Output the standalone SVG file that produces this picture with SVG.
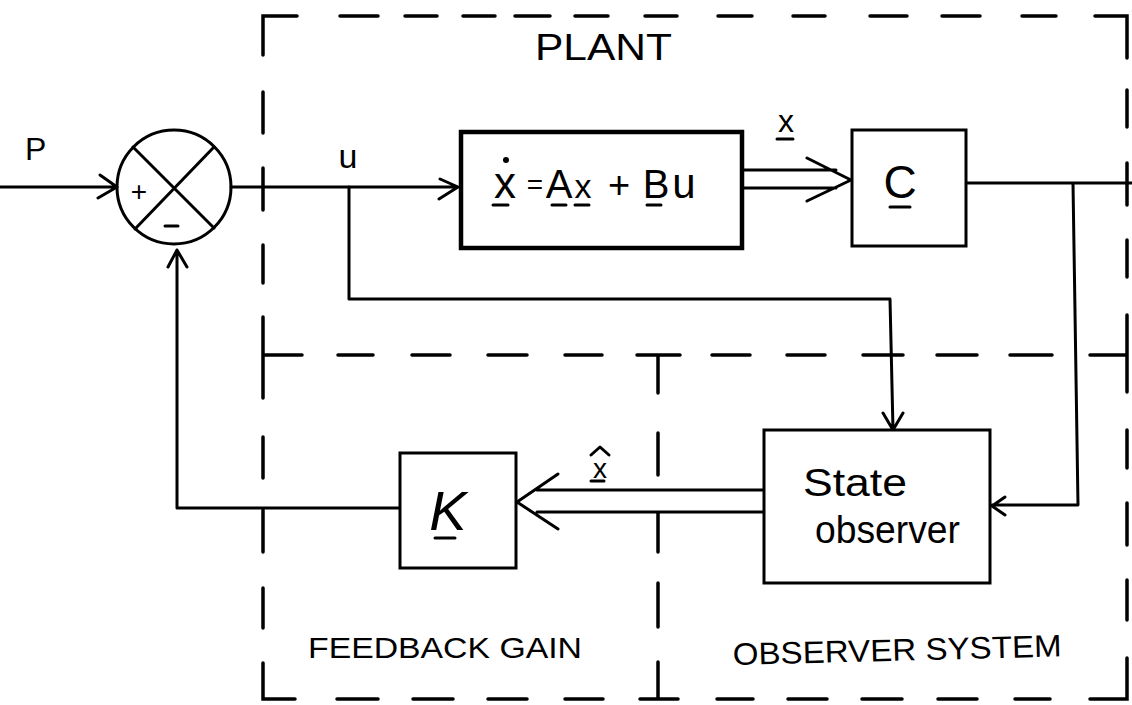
<svg xmlns="http://www.w3.org/2000/svg" width="1132" height="705" viewBox="0 0 1132 705">
<style>
.ln{stroke:#000;stroke-width:3;fill:none;stroke-linecap:round;stroke-linejoin:round}
.bx{stroke:#000;stroke-width:3;fill:#fff}
.bd{stroke:#000;stroke-width:3.5;fill:none;stroke-linecap:round}
.t{font-family:"Liberation Sans","DejaVu Sans",sans-serif;fill:#000}
</style>
<rect width="1132" height="705" fill="#fff"/>
<g id="borders">
<path class="bd" d="M263 55 V16 H297 M340 16 H378 M405 16 H437 M463 16 H495 M515 16 H550 M575 16 H608 M645 16 H677 M718 16 H752 M793 16 H825 M870 16 H907 M942 16 H980 M1022 16 H1056 M1095 16 H1127 V58
M263 92 V133 M263 168 V210 M263 245 V283 M263 317 V398 M263 437 V478 M263 510 V552 M263 588 V628 M263 663 V699 H295
M337 699 H378 M413 699 H453 M488 699 H527 M565 699 H603 M640 699 H678 M717 699 H753 M788 699 H827 M862 699 H902 M938 699 H977 M1015 699 H1050 M1090 699 H1127 V658
M658 355 V393 M658 433 V475 M658 513 V552 M658 583 V627 M658 662 V699
M263 355 H302 M338 355 H373 M412 355 H450 M488 355 H527 M565 355 H602 M637 355 H680 M712 355 H750 M787 355 H825 M863 355 H903 M937 355 H977 M1010 355 H1052 M1090 355 H1127
M1127 90 V127 M1127 163 V205 M1127 240 V277 M1127 315 V392 M1127 430 V468 M1127 503 V545 M1127 580 V620"/>
<text class="t" x="535" y="60" font-size="36" textLength="137" lengthAdjust="spacingAndGlyphs">PLANT</text>
<text class="t" x="308" y="658" font-size="29" textLength="274" lengthAdjust="spacingAndGlyphs">FEEDBACK GAIN</text>
<text class="t" x="733" y="665" font-size="31" textLength="329" lengthAdjust="spacingAndGlyphs" transform="rotate(-1.5 733 665)">OBSERVER SYSTEM</text>
</g>
<g id="connectors">
<path class="ln" d="M0 187 H117 M100 175 L117 187 L98 198"/>
<text class="t" x="25" y="160" font-size="32">P</text>
<path class="ln" d="M231 187 H458 M440 179 L458 187 L439 199"/>
<text class="t" x="348" y="168" font-size="34" text-anchor="middle">u</text>
<path class="ln" d="M349 187 V299 H890 L893 430 M883 413 L893 430 L903 413"/>
<path class="ln" d="M742 170 H836 M742 188 H836 M807 158 L851 180 L807 201"/>
<text class="t" x="786" y="132" font-size="32" text-anchor="middle">x</text>
<path class="ln" d="M777 139 H793"/>
<path class="ln" d="M966 183 H1132 M1073 183 L1078 505 H992 M1005 497 L992 506 L1005 515"/>
<path class="ln" d="M764 490 H537 M764 512 H537 M558 474 L517 502 L558 529"/>
<text class="t" x="600" y="478" font-size="28" text-anchor="middle">x</text>
<path class="ln" d="M591 455 L600 447 L609 455 M591 481 H604"/>
<path class="ln" d="M400 508 H177 V250 M168 267 L177 250 L187 267"/>
</g>
<g id="sum">
<circle class="ln" cx="174" cy="187" r="57"/>
<path class="ln" d="M133 147 L214 228 M214 147 L135 229"/>
<text class="t" x="139" y="201" font-size="28" text-anchor="middle">+</text>
<path class="ln" d="M165 226 H178"/>
</g>
<g id="plant">
<rect x="461" y="132" width="281" height="116" fill="#fff" stroke="#000" stroke-width="4.5"/>
<text class="t" x="505" y="198" font-size="44" text-anchor="middle">x</text>
<circle cx="506" cy="160" r="3" fill="#000"/>
<text class="t" x="535" y="194" font-size="28" text-anchor="middle">=</text>
<text class="t" x="559" y="198" font-size="40" text-anchor="middle">A</text>
<text class="t" x="583" y="198" font-size="34" text-anchor="middle">x</text>
<text class="t" x="619" y="198" font-size="38" text-anchor="middle">+</text>
<text class="t" x="656" y="198" font-size="40" text-anchor="middle">B</text>
<text class="t" x="684" y="198" font-size="42" text-anchor="middle">u</text>
<path class="ln" d="M493 205 H508 M552 205 H566 M575 205 H589 M647 205 H661"/>
</g>
<g id="C">
<rect class="bx" x="852" y="130" width="114" height="116"/>
<text class="t" x="900" y="198" font-size="46" text-anchor="middle">C</text>
<path class="ln" d="M890 207 H910"/>
</g>
<g id="observer">
<rect class="bx" x="764" y="430" width="226" height="153"/>
<text class="t" x="803" y="496" font-size="38" textLength="104" lengthAdjust="spacingAndGlyphs">State</text>
<text class="t" x="815" y="543" font-size="38" textLength="145" lengthAdjust="spacingAndGlyphs">observer</text>
</g>
<g id="K">
<rect class="bx" x="400" y="453" width="116" height="115"/>
<text class="t" x="448" y="530" font-size="56" text-anchor="middle" font-style="italic">K</text>
<path class="ln" d="M435 538 H455"/>
</g>
</svg>
